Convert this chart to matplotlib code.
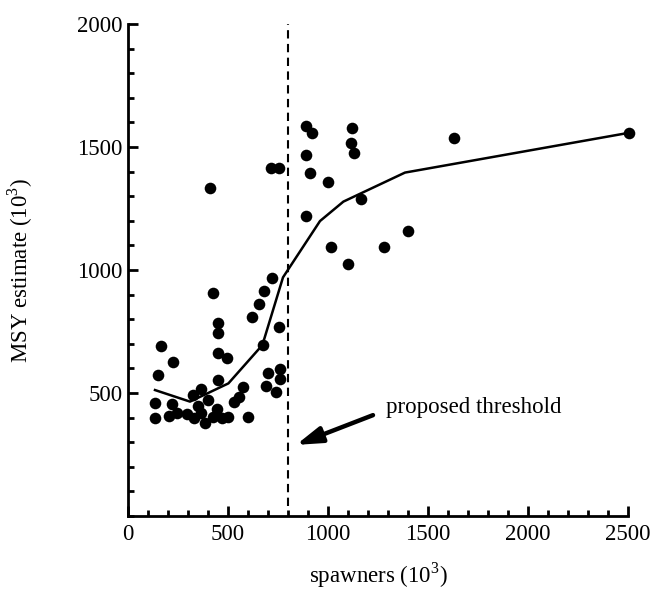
import matplotlib
matplotlib.use("Agg")
import matplotlib.pyplot as plt
from matplotlib.ticker import MultipleLocator, FixedLocator

plt.rcParams['font.family'] = ['Liberation Serif', 'DejaVu Serif']
plt.rcParams['mathtext.fontset'] = 'custom'
plt.rcParams['mathtext.rm'] = 'Liberation Serif'

# observed spawners vs MSY estimate (both in thousands)
spawners = [163, 223, 152, 135, 135, 205, 222, 247, 293, 323, 365, 348, 363,
            402, 330, 385, 447, 427, 468, 502, 448, 448, 448, 493, 448, 530,
            557, 577, 602, 618, 657, 680, 718, 673, 757, 702, 690, 738, 760,
            760, 423, 410, 713, 757,
            888, 918, 890, 1118, 1115, 1130, 910, 1002, 1163, 890, 1013, 1098,
            1282, 1402, 1632, 2507]
msy = [693, 627, 573, 458, 397, 408, 454, 420, 415, 492, 515, 447, 417,
       472, 397, 379, 434, 404, 397, 401, 783, 743, 661, 641, 553, 465,
       483, 523, 401, 810, 862, 915, 966, 695, 770, 583, 530, 505, 596,
       556, 905, 1335, 1416, 1416,
       1587, 1556, 1467, 1579, 1518, 1477, 1393, 1359, 1289, 1221, 1095, 1024,
       1093, 1157, 1535, 1558]

# smoothed trend
trend_x = [135, 310, 502, 672, 775, 960, 1077, 1385, 2507]
trend_y = [512, 465, 539, 695, 970, 1199, 1278, 1396, 1558]

threshold = 800

fig = plt.figure(figsize=(6.52, 5.91), dpi=100)
ax = fig.add_axes([0.1963, 0.1269, 0.7669, 0.8325])

ax.scatter(spawners, msy, s=70, color='black', zorder=3, clip_on=False,
           linewidths=0)
ax.plot(trend_x, trend_y, color='black', lw=1.8, zorder=2, clip_on=False)
ax.plot([threshold, threshold], [40, 2000], color='black', lw=1.5,
        linestyle=(0, (4, 2.6)), clip_on=False)

ax.annotate('', xy=(840, 289), xytext=(1225, 410),
            arrowprops=dict(arrowstyle='-|>,head_length=0.7,head_width=0.22',
                            lw=3.2, color='black',
                            mutation_scale=22, shrinkA=0, shrinkB=0))
ax.text(1290, 440, 'proposed threshold', fontsize=16.5, ha='left',
        va='center')

ax.set_xlim(0, 2500)
ax.set_ylim(0, 2000)
ax.xaxis.set_major_locator(MultipleLocator(500))
ax.xaxis.set_minor_locator(MultipleLocator(100))
ax.yaxis.set_major_locator(FixedLocator([500, 1000, 1500, 2000]))
ax.yaxis.set_minor_locator(MultipleLocator(100))

for s in ['top', 'right']:
    ax.spines[s].set_visible(False)
for s in ['left', 'bottom']:
    ax.spines[s].set_linewidth(2)

ax.tick_params(which='both', direction='in', width=2, labelsize=16.5)
ax.tick_params(which='major', length=7)
ax.tick_params(which='minor', length=4)
ax.tick_params(axis='x', pad=6)
ax.tick_params(axis='y', pad=4)

ax.set_xlabel('spawners (10$^3$)', fontsize=16.5, labelpad=11)
ax.set_ylabel('MSY estimate (10$^3$)', fontsize=16.5, labelpad=30)

fig.savefig('out.png', dpi=100)
